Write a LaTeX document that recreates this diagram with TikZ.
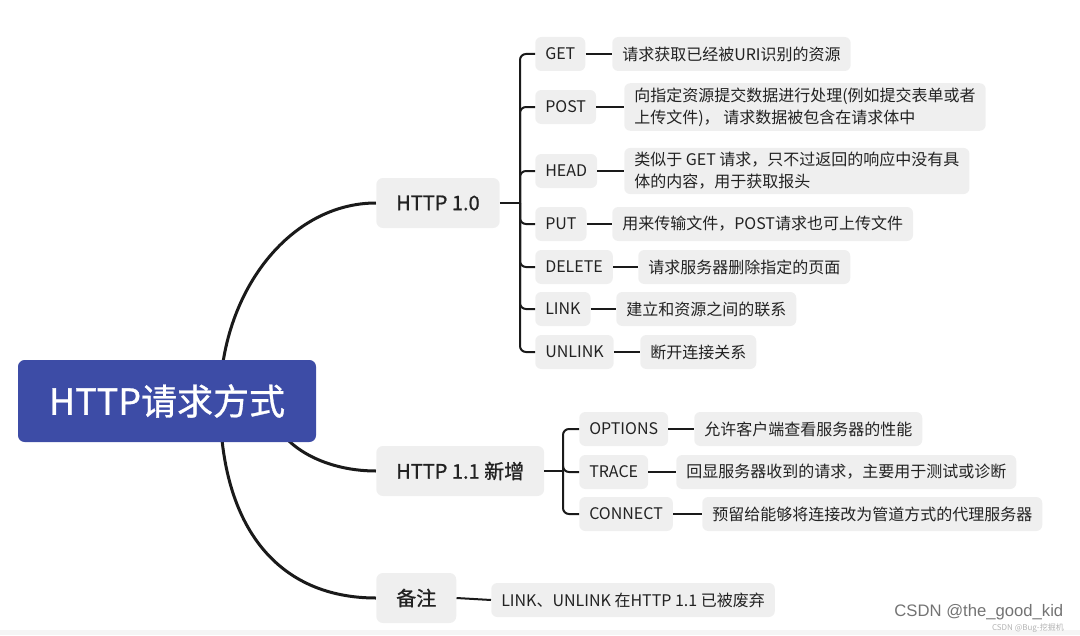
\documentclass[tikz,border=0pt]{standalone}
\usepackage{fontspec}
\setmainfont{Noto Sans CJK SC}
\newfontfamily\medfont[FakeBold=0.9]{Noto Sans CJK SC}
\newfontfamily\marksans{Liberation Sans}
\usetikzlibrary{
  positioning,
  calc,
  backgrounds
}
\definecolor{rootblue}{HTML}{3D4CA6}
\definecolor{boxgray}{HTML}{EFEFEF}
\definecolor{linedark}{HTML}{1A1A1A}
\definecolor{textdark}{HTML}{222222}

\begin{document}
\begin{tikzpicture}[x=0.75pt, y=-0.75pt,
  rootbox/.style={fill=rootblue, rounded corners=5pt, text=white,
                  minimum width=223.5pt, minimum height=61.5pt,
                  font=\medfont\fontsize{27}{32}\selectfont},
  topic/.style={fill=boxgray, rounded corners=5pt, anchor=west, text=textdark,
                minimum height=37.5pt, inner xsep=15pt,
                font=\medfont\fontsize{15}{18}\selectfont},
  method/.style={fill=boxgray, rounded corners=4.5pt, anchor=west, text=textdark,
                 minimum height=25.5pt, inner xsep=7.5pt,
                 font=\fontsize{12}{16.5}\selectfont},
  desc/.style={method, align=left},
  trunk/.style={draw=linedark, line width=2.25pt},
  branch/.style={draw=linedark, line width=1.5pt, rounded corners=4.5pt}
]
  \useasboundingbox (0,0) rectangle (1080,635);
  \fill[black!4] (0,630) rectangle (1080,635);

  % root and first level
  \node[rootbox] (root) at (167,401) {HTTP请求方式};
  \node[topic] (v10) at (376,203) {HTTP 1.0};
  \node[topic] (v11) at (376,471) {HTTP 1.1 新增};
  \node[topic] (note) at (376,598) {备注};

  % HTTP 1.0 methods
  \node[method] (get)    at (535,54)  {GET};
  \node[method] (post)   at (535,107) {POST};
  \node[method] (head)   at (535,171) {HEAD};
  \node[method] (put)    at (535,224) {PUT};
  \node[method] (delete) at (535,267) {DELETE};
  \node[method] (link)   at (535,309) {LINK};
  \node[method] (unlink) at (535,352) {UNLINK};

  \node[desc] (getd)    at (612,54)  {请求获取已经被URI识别的资源};
  \node[desc] (postd)   at (624,107) {向指定资源提交数据进行处理(例如提交表单或者\\上传文件)， 请求数据被包含在请求体中};
  \node[desc] (headd)   at (624,171) {类似于 GET 请求，只不过返回的响应中没有具\\体的内容，用于获取报头};
  \node[desc] (putd)    at (612,224) {用来传输文件，POST请求也可上传文件};
  \node[desc] (deleted) at (638,267) {请求服务器删除指定的页面};
  \node[desc] (linkd)   at (616,309) {建立和资源之间的联系};
  \node[desc] (unlinkd) at (640,352) {断开连接关系};

  % HTTP 1.1 methods
  \node[method] (options) at (579,429) {OPTIONS};
  \node[method] (trace)   at (579,472) {TRACE};
  \node[method] (connect) at (579,514) {CONNECT};

  \node[desc] (optionsd) at (694,429) {允许客户端查看服务器的性能};
  \node[desc] (traced)   at (676,472) {回显服务器收到的请求，主要用于测试或诊断};
  \node[desc] (connectd) at (702,514) {预留给能够将连接改为管道方式的代理服务器};

  \node[desc] (noted) at (491,600) {LINK、UNLINK 在HTTP 1.1 已被废弃};

  \coordinate (hub10) at (520,203);
  \coordinate (hub11) at (563,471);

  \begin{scope}[on background layer]
    \draw[trunk] ($(root.center)+(53,0)$) .. controls +(0,-109) and +(-86,0) .. (v10.west);
    \draw[trunk] ($(root.center)+(103,0)$) .. controls +(0,39) and +(-58,0) .. (v11.west);
    \draw[trunk] ($(root.center)+(53,0)$) .. controls +(0,129) and +(-96,0) .. (note.west);
  \end{scope}

  \draw[branch] (v10.east) -- (hub10);
  \foreach \m in {get,post,head,put,delete,link,unlink}
    \draw[branch] (hub10) |- (\m.west);
  \draw[branch] (v11.east) -- (hub11);
  \foreach \m in {options,trace,connect}
    \draw[branch] (hub11) |- (\m.west);

  \foreach \m in {get,post,head,put,delete,link,unlink,options,trace,connect}
    \draw[branch] (\m.east) -- (\m d.west);
  \draw[branch] (note.east) -- (noted.west);

  % watermark
  \node[anchor=east, text=black!55, font=\marksans\fontsize{12.5}{14}\selectfont] (mark) at (1068,612) {CSDN @the\_good\_kid};
  \node[anchor=east, text=black!30, font=\fontsize{6}{7}\selectfont, inner sep=0pt] (mark2) at (1064,628) {CSDN @Bug-挖掘机};
\end{tikzpicture}
\end{document}
